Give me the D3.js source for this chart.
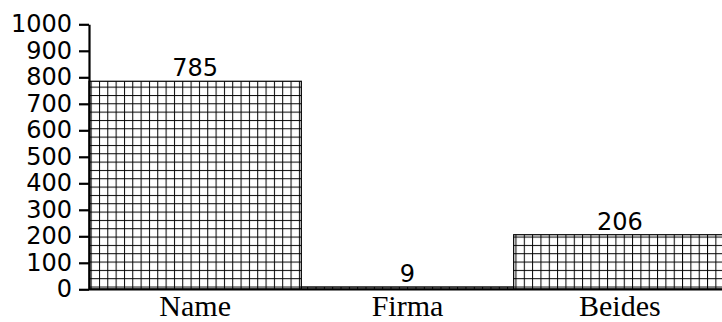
<!DOCTYPE html>
<html>
<head>
<meta charset="utf-8">
<script src="https://cdn.jsdelivr.net/npm/d3@7"></script>
<style>
  html, body { margin: 0; padding: 0; background: #fff; }
  svg { display: block; }
</style>
</head>
<body>
<svg id="chart" width="722" height="322"></svg>
<script>
const categories = ["Name", "Firma", "Beides"];
const values = [785, 9, 206];
const yTicks = [0, 100, 200, 300, 400, 500, 600, 700, 800, 900, 1000];

const svg = d3.select("#chart");
const W = 722, H = 322;
const x0 = 89, x1 = 726, yBottom = 289.3, yTop = 24.3;

const x = d3.scaleBand().domain(categories).range([x0, x1]).padding(0);
const y = d3.scaleLinear().domain([0, 1000]).range([yBottom, yTop]);

// grid pattern
const defs = svg.append("defs");
const pat = defs.append("pattern")
  .attr("id", "grid")
  .attr("patternUnits", "userSpaceOnUse")
  .attr("width", 8.33).attr("height", 8.33)
  .attr("x", 7.33).attr("y", 3.33);
pat.append("rect").attr("width", 8.33).attr("height", 8.33).attr("fill", "#fff");
pat.append("line").attr("x1", 0.5).attr("x2", 0.5).attr("y1", 0).attr("y2", 8.33)
  .attr("stroke", "#000").attr("stroke-width", 1);
pat.append("line").attr("x1", 0).attr("x2", 8.33).attr("y1", 0.5).attr("y2", 0.5)
  .attr("stroke", "#000").attr("stroke-width", 1);

// bars
svg.append("g").selectAll("rect")
  .data(categories.map((c, i) => ({ c, v: values[i] })))
  .join("rect")
  .attr("x", d => x(d.c))
  .attr("width", x.bandwidth())
  .attr("y", d => y(d.v))
  .attr("height", d => y(0) - y(d.v))
  .attr("fill", "url(#grid)")
  .attr("stroke", "#000")
  .attr("stroke-width", 1.2);

// value labels
svg.append("g").selectAll("text")
  .data(categories.map((c, i) => ({ c, v: values[i] })))
  .join("text")
  .attr("x", d => x(d.c) + x.bandwidth() / 2)
  .attr("y", d => y(d.v) - 5)
  .attr("text-anchor", "middle")
  .attr("font-family", "DejaVu Sans, sans-serif")
  .attr("font-size", 24)
  .attr("fill", "#000")
  .text(d => d.v);

// x axis line
svg.append("line")
  .attr("x1", x0).attr("x2", W)
  .attr("y1", y(0)).attr("y2", y(0))
  .attr("stroke", "#000").attr("stroke-width", 2.2);

// category labels
svg.append("g").selectAll("text")
  .data(categories)
  .join("text")
  .attr("x", d => x(d) + x.bandwidth() / 2)
  .attr("y", 316)
  .attr("text-anchor", "middle")
  .attr("font-family", "Liberation Serif, serif")
  .attr("font-size", 30)
  .attr("fill", "#000")
  .text(d => d);

// y axis
const yAxis = d3.axisLeft(y).tickValues(yTicks).tickFormat(d3.format("d"))
  .tickSize(10).tickSizeOuter(0).tickPadding(7);
const gy = svg.append("g").attr("transform", `translate(${x0},0)`).call(yAxis);
gy.select(".domain").attr("stroke", "#000").attr("stroke-width", 2.2);
gy.selectAll(".tick line").attr("stroke", "#000").attr("stroke-width", 2.2);
gy.selectAll(".tick text")
  .attr("font-family", "DejaVu Sans, sans-serif")
  .attr("font-size", 24)
  .attr("fill", "#000");
</script>
</body>
</html>
